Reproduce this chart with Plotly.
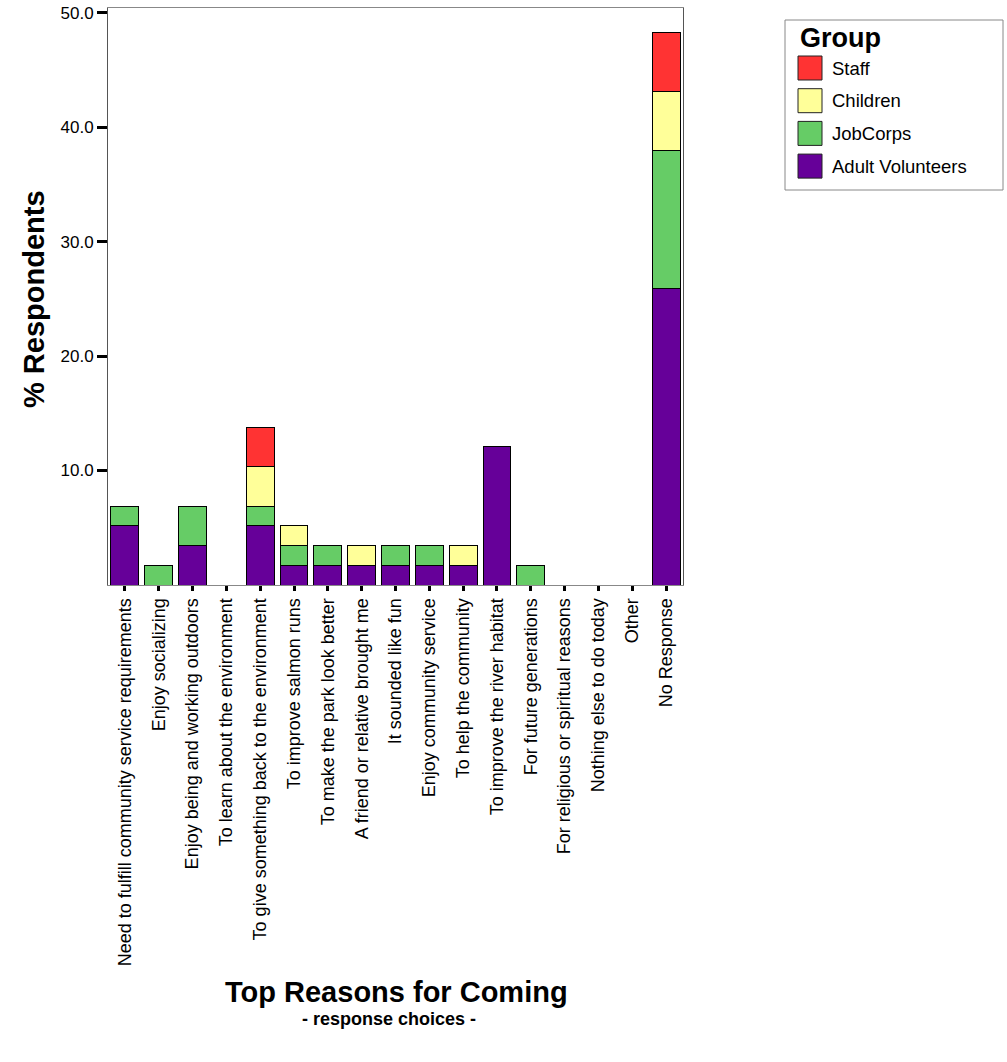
import plotly.graph_objects as go

# Response categories (x axis)
categories = [
    "Need to fulfill community service requirements",
    "Enjoy socializing",
    "Enjoy being and working outdoors",
    "To learn about the environment",
    "To give something back to the environment",
    "To improve salmon runs",
    "To make the park look better",
    "A friend or relative brought me",
    "It sounded like fun",
    "Enjoy community service",
    "To help the community",
    "To improve the river habitat",
    "For future generations",
    "For religious or spiritual reasons",
    "Nothing else to do today",
    "Other",
    "No Response",
]

# Percent of respondents by group, per category
adult_volunteers = [5.17, 0, 3.45, 0, 5.17, 1.72, 1.72, 1.72, 1.72, 1.72, 1.72, 12.07, 0, 0, 0, 0, 25.86]
jobcorps         = [1.72, 1.72, 3.45, 0, 1.72, 1.72, 1.72, 0, 1.72, 1.72, 0, 0, 1.72, 0, 0, 0, 12.07]
children         = [0, 0, 0, 0, 3.45, 1.72, 0, 1.72, 0, 0, 1.72, 0, 0, 0, 0, 0, 5.17]
staff            = [0, 0, 0, 0, 3.45, 0, 0, 0, 0, 0, 0, 0, 0, 0, 0, 0, 5.17]

y_ticks = [10, 20, 30, 40, 50]

# Stacking order, bottom to top
series = [
    ("Adult Volunteers", adult_volunteers, "#660099"),
    ("JobCorps", jobcorps, "#66CC66"),
    ("Children", children, "#FFFF99"),
    ("Staff", staff, "#FF3333"),
]

W, H = 1007, 1062
ML, MR, MT, MB = 108, 324, 8, 477
PW, PH = W - ML - MR, H - MT - MB


def px_x(px):
    """Pixel x -> paper x."""
    return (px - ML) / PW


def px_y(py):
    """Pixel y (from top) -> paper y."""
    return (H - MB - py) / PH


fig = go.Figure()
for name, vals, color in series:
    fig.add_trace(go.Bar(
        name=name, x=categories, y=vals, showlegend=False,
        marker=dict(color=color, line=dict(color="black", width=1)),
    ))

font = "Liberation Sans, Arial, sans-serif"

shapes = []
annotations = [
    dict(text="<b>% Respondents</b>", textangle=-90, x=px_x(34), y=px_y(299),
         xanchor="center", yanchor="middle",
         xref="paper", yref="paper", showarrow=False,
         font=dict(size=29, family=font)),
    dict(text="<b>Top Reasons for Coming</b>", x=px_x(396), y=px_y(992),
         xanchor="center", yanchor="middle",
         xref="paper", yref="paper", showarrow=False,
         font=dict(size=29, family=font)),
    dict(text="<b>- response choices -</b>", x=px_x(389), y=px_y(1019),
         xanchor="center", yanchor="middle",
         xref="paper", yref="paper", showarrow=False,
         font=dict(size=18, family=font)),
]

# Group legend box, listed top to bottom
shapes.append(dict(type="rect", xref="paper", yref="paper",
                   x0=px_x(785), x1=px_x(1003), y0=px_y(190), y1=px_y(20),
                   line=dict(color="#888888", width=1), fillcolor="white"))
annotations.append(dict(text="<b>Group</b>", x=px_x(798), y=px_y(38),
                        xanchor="left", yanchor="middle",
                        xref="paper", yref="paper", showarrow=False,
                        font=dict(size=27, family=font)))
for i, (name, _, color) in enumerate(reversed(series)):
    top = 56 + i * 32.7
    shapes.append(dict(type="rect", xref="paper", yref="paper",
                       x0=px_x(798), x1=px_x(822), y0=px_y(top + 24), y1=px_y(top),
                       line=dict(color="#222222", width=1), fillcolor=color))
    annotations.append(dict(text=name, x=px_x(830), y=px_y(top + 12),
                            xanchor="left", yanchor="middle",
                            xref="paper", yref="paper", showarrow=False,
                            font=dict(size=18.5, family=font)))

fig.update_layout(
    barmode="stack",
    bargap=0.175,
    width=W, height=H,
    margin=dict(l=ML, r=MR, t=MT, b=MB, autoexpand=False),
    paper_bgcolor="white", plot_bgcolor="white",
    font=dict(family=font, color="black"),
    showlegend=False,
    xaxis=dict(
        tickangle=-90, tickfont=dict(size=18, family=font),
        ticks="outside", ticklen=5, tickwidth=3, tickcolor="black",
        showline=True, linecolor="#888888", linewidth=1, mirror=True,
        showgrid=False, automargin=False,
    ),
    yaxis=dict(
        range=[0, 50.4], tickvals=y_ticks, tickformat=".1f",
        tickfont=dict(size=17, family=font),
        ticks="outside", ticklen=10, tickwidth=3, tickcolor="black",
        showline=True, linecolor="#555555", linewidth=1, mirror=True,
        showgrid=False, zeroline=False, automargin=False,
    ),
    shapes=shapes,
    annotations=annotations,
)

fig.write_html("out.html")
